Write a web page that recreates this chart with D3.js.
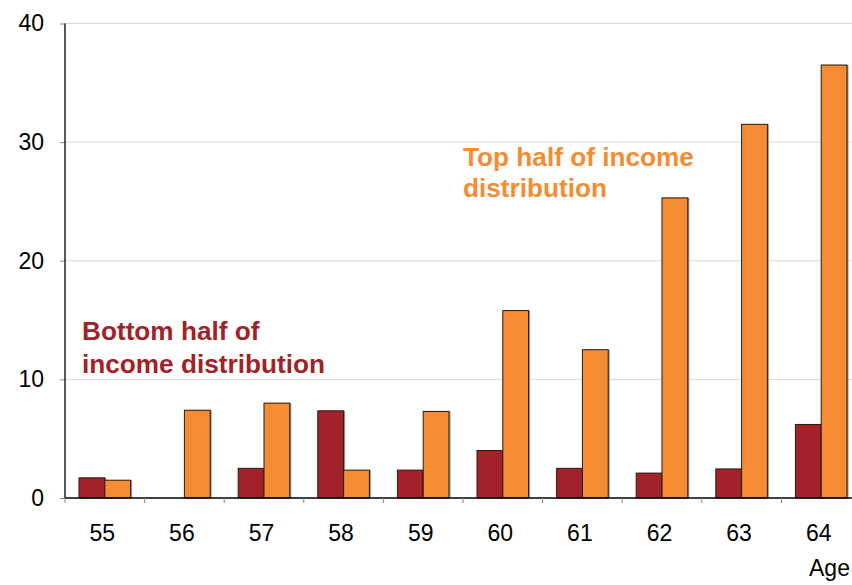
<!DOCTYPE html>
<html><head><meta charset="utf-8">
<script src="https://cdn.jsdelivr.net/npm/d3@7"></script>
<style>
html,body{margin:0;padding:0;background:#fff;overflow:hidden}
svg{display:block;font-family:"Liberation Sans",Arial,sans-serif}
</style></head>
<body><svg id="c" width="852" height="585"></svg>
<script>
const ages = ["55","56","57","58","59","60","61","62","63","64"];
const seriesNames = ["Bottom half of income distribution","Top half of income distribution"];
const bottomHalf = [1.7, 0, 2.5, 7.35, 2.35, 4.0, 2.5, 2.1, 2.45, 6.2];
const topHalf = [1.5, 7.4, 8.0, 2.35, 7.3, 15.8, 12.5, 25.3, 31.5, 36.5];
const yTicks = [0, 10, 20, 30, 40];
const colors = ["#A2222A", "#F58C33"];

(function(){
const svg = d3.select("#c");
const L = 65, R = 861, T = 23.5, B = 498;
const x = d3.scaleBand().domain(ages).range([L, R]).paddingInner(0).paddingOuter(0);
const y = d3.scaleLinear().domain([0, 40]).range([B, T]);

// gridlines
svg.append("g").selectAll("line").data(yTicks.filter(d=>d>0)).join("line")
  .attr("x1", L).attr("x2", 852).attr("y1", d=>y(d)).attr("y2", d=>y(d))
  .attr("stroke", "#d9d9d9").attr("stroke-width", 1);

// y axis
const yAxis = d3.axisLeft(y).tickValues(yTicks).tickSize(5).tickPadding(16).tickFormat(d3.format("d"));
const gy = svg.append("g").attr("transform", `translate(${L},0)`).call(yAxis);
gy.select(".domain").remove();
gy.selectAll(".tick line").attr("stroke", "#888");
gy.selectAll(".tick text").attr("font-size", 23).attr("fill", "#000").attr("font-family", "Liberation Sans, Arial, sans-serif");

// bars
const data = ages.map((a,i)=>({age:a, vals:[bottomHalf[i], topHalf[i]]}));
const bw = 25.8;
const off = 14;
const groups = svg.append("g").selectAll("g").data(data).join("g")
  .attr("transform", d=>`translate(${x(d.age)},0)`);
groups.selectAll("rect.sh").data(d=>d.vals.map((v,k)=>({v,k})).filter(e=>e.v>0)).join("rect")
  .attr("class","sh")
  .attr("x", d=>off + d.k*bw + 1.5).attr("width", bw)
  .attr("y", d=>y(d.v)).attr("height", d=>B - y(d.v))
  .attr("fill", "#9a9a9a");
groups.selectAll("rect.b").data(d=>d.vals.map((v,k)=>({v,k})).filter(e=>e.v>0)).join("rect")
  .attr("class","b")
  .attr("x", d=>off + d.k*bw).attr("width", bw)
  .attr("y", d=>y(d.v)).attr("height", d=>B - y(d.v))
  .attr("fill", d=>colors[d.k]).attr("stroke", "#2a1a10").attr("stroke-width", 1);

// axis lines
svg.append("line").attr("x1", L).attr("x2", L).attr("y1", T).attr("y2", B)
  .attr("stroke", "#000").attr("stroke-width", 1.3);
svg.append("line").attr("x1", L).attr("x2", 852).attr("y1", B).attr("y2", B)
  .attr("stroke", "#000").attr("stroke-width", 1.3);

// x ticks at band boundaries
svg.append("g").selectAll("line").data(ages).join("line")
  .attr("x1", d=>x(d)).attr("x2", d=>x(d)).attr("y1", B).attr("y2", B+5)
  .attr("stroke", "#888");

// x labels
svg.append("g").selectAll("text").data(ages).join("text")
  .attr("x", d=>x(d) + x.bandwidth()/2 - 2.5).attr("y", 541)
  .attr("text-anchor", "middle").attr("font-size", 23).attr("fill", "#000")
  .text(d=>d);
svg.append("text").attr("x", 809).attr("y", 576).attr("font-size", 23).attr("fill", "#000").text("Age");

// series labels
const topLbl = svg.append("text").attr("font-size", 26.2).attr("font-weight", "bold").attr("fill", colors[1]);
topLbl.append("tspan").attr("x", 463).attr("y", 165.5).text("Top half of income");
topLbl.append("tspan").attr("x", 463).attr("y", 197).text("distribution");
const botLbl = svg.append("text").attr("font-size", 26.2).attr("font-weight", "bold").attr("fill", colors[0]);
botLbl.append("tspan").attr("x", 82).attr("y", 340).text("Bottom half of");
botLbl.append("tspan").attr("x", 82).attr("y", 373).text("income distribution");
})();
</script></body></html>
